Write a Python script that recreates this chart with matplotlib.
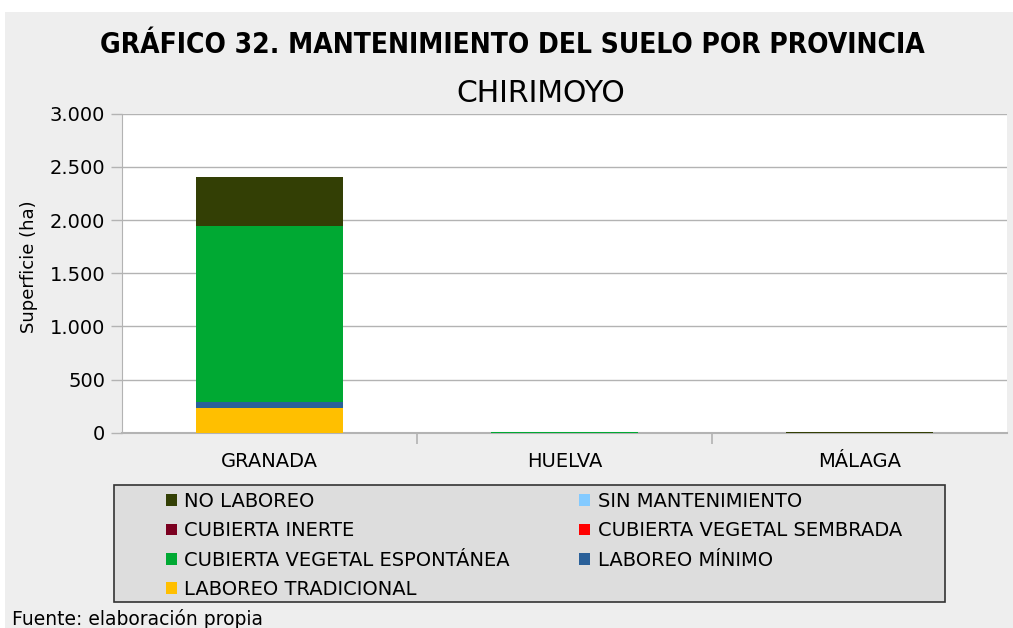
import matplotlib.pyplot as plt
from matplotlib import font_manager
from matplotlib.patches import Rectangle, Patch

provincias = ["GRANADA", "HUELVA", "MÁLAGA"]

# superficie (ha) por tipo de mantenimiento, de abajo arriba en la pila
laboreo_tradicional = [232, 0, 0]
laboreo_minimo = [56, 0, 0]
cubierta_espontanea = [1655, 6, 0]
cubierta_sembrada = [0, 0, 0]
cubierta_inerte = [0, 0, 0]
sin_mantenimiento = [0, 0, 0]
no_laboreo = [461, 0, 6]

y_ticks = [0, 500, 1000, 1500, 2000, 2500, 3000]
y_tick_labels = ["0", "500", "1.000", "1.500", "2.000", "2.500", "3.000"]

series = [
    ("LABOREO TRADICIONAL", laboreo_tradicional, "#FFBF00"),
    ("LABOREO MÍNIMO", laboreo_minimo, "#2A6099"),
    ("CUBIERTA VEGETAL ESPONTÁNEA", cubierta_espontanea, "#00A933"),
    ("CUBIERTA VEGETAL SEMBRADA", cubierta_sembrada, "#FF0000"),
    ("CUBIERTA INERTE", cubierta_inerte, "#7B0020"),
    ("SIN MANTENIMIENTO", sin_mantenimiento, "#83CAFF"),
    ("NO LABOREO", no_laboreo, "#333F05"),
]

font = ["DejaVu Sans"]

# condensed bold title if the system has it, otherwise smaller normal bold
has_cond = any(f.name == "DejaVu Sans" and f.stretch == "condensed" and f.weight in ("bold", 700)
               for f in font_manager.fontManager.ttflist)
title_kw = {"fontstretch": "condensed", "fontsize": 20.2} if has_cond else {"fontsize": 17.5}

fig = plt.figure(figsize=(10.13, 6.28), dpi=100)
fig.patch.set_facecolor("white")
fig.patches.append(Rectangle((5 / 1013, 0), 1, 1 - 12 / 628, transform=fig.transFigure,
                             facecolor="#EEEEEE", edgecolor="none", zorder=-10))

ax = fig.add_axes([122 / 1013, 1 - 432.7 / 628, 885 / 1013, 319 / 628])
ax.set_facecolor("white")

x = range(len(provincias))
bottom = [0, 0, 0]
for name, vals, color in series:
    ax.bar(x, vals, width=0.5, bottom=bottom, color=color, label=name, zorder=3)
    bottom = [b + v for b, v in zip(bottom, vals)]

ax.set_xlim(-0.5, 2.5)
ax.set_ylim(0, 3000)
ax.set_yticks(y_ticks)
ax.set_yticklabels(y_tick_labels, family=font, fontsize=14)
ax.set_xticks(list(x))
ax.set_xticklabels(provincias, family=font, fontsize=14)
ax.set_xticks([0.5, 1.5], minor=True)
ax.tick_params(axis="x", which="major", length=0, pad=14)
ax.tick_params(axis="x", which="minor", length=8, color="#B3B3B3", width=1.2)
ax.tick_params(axis="y", length=8, color="#B3B3B3", width=1, pad=4)
ax.grid(axis="y", color="#B3B3B3", linewidth=1, zorder=0)
for s in ["top", "right"]:
    ax.spines[s].set_visible(False)
ax.spines["left"].set_color("#B3B3B3")
ax.spines["bottom"].set_color("#B3B3B3")
ax.spines["bottom"].set_linewidth(1.5)

ax.set_ylabel("Superficie (ha)", family=font, fontsize=13)
ax.yaxis.set_label_coords(-(122 - 38) / 885, 0.52)

fig.text(0.506, 1 - 45 / 628, "GRÁFICO 32. MANTENIMIENTO DEL SUELO POR PROVINCIA",
         ha="center", va="center", family=font, fontweight="bold", **title_kw)
fig.text(0.534, 1 - 93 / 628, "CHIRIMOYO", ha="center", va="center",
         family=font, fontsize=21.5)

# legend frame
fig.patches.append(Rectangle((114 / 1013, 1 - 602 / 628), 831 / 1013, 117 / 628,
                             transform=fig.transFigure, facecolor="#DDDDDD",
                             edgecolor="#333333", linewidth=1.2, zorder=1))
order = ["NO LABOREO", "CUBIERTA INERTE", "CUBIERTA VEGETAL ESPONTÁNEA", "LABOREO TRADICIONAL",
         "SIN MANTENIMIENTO", "CUBIERTA VEGETAL SEMBRADA", "LABOREO MÍNIMO"]
colors = {n: c for n, _, c in series}
handles = [Patch(facecolor=colors[n], edgecolor="none") for n in order]
leg = fig.legend(handles, order, loc="upper left", bbox_to_anchor=(166 / 1013, 1 - 492 / 628),
                 ncol=2, frameon=False, prop={"family": font, "size": 14},
                 handlelength=0.55, handleheight=0.55, handletextpad=0.4,
                 labelspacing=0.53, columnspacing=3.55, borderpad=0, borderaxespad=0)

fig.text(12 / 1013, 1 - 619 / 628, "Fuente: elaboración propia", ha="left", va="center",
         family=font, fontsize=13.5)

fig.savefig("out.png", dpi=100)
